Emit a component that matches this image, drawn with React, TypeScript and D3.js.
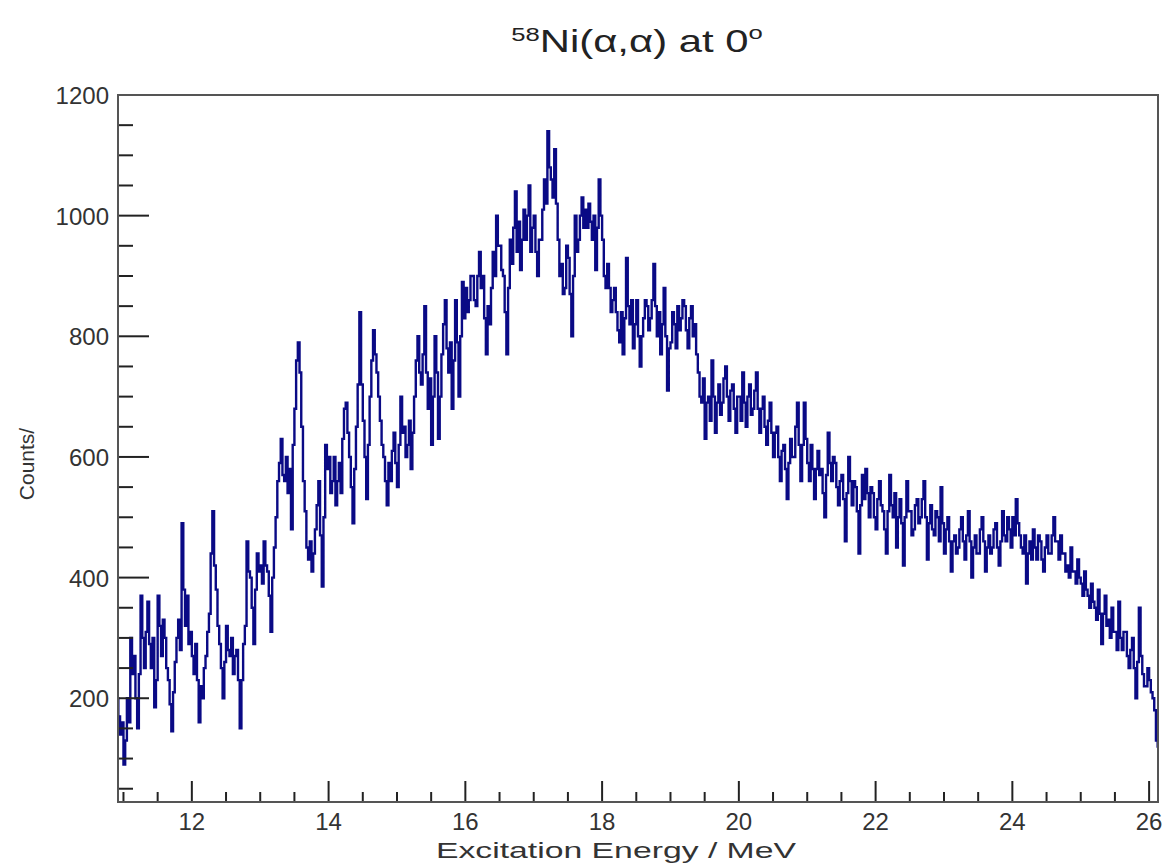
import React, { useEffect, useRef } from "react";
import * as d3 from "d3";

// histogram bins, 0.025 MeV wide, starting at 10.900 MeV
const energyStart = 10.9;
const binWidth = 0.025;

// 10.900 - 11.975
const counts11 = [200, 170, 140, 160, 90, 130, 200, 160, 300, 240, 270, 200, 150, 240, 370, 300, 250, 310, 360, 290, 250, 300,
  185, 230, 370, 320, 270, 330, 300, 250, 230, 190, 145, 210, 260, 300, 330, 280, 490, 380, 320, 370, 290, 310];
// 12.000 - 12.975
const counts12 = [270, 240, 290, 230, 160, 220, 200, 250, 270, 310, 340, 440, 510, 420, 380, 320, 290, 250, 200, 260,
  320, 280, 270, 300, 240, 270, 280, 230, 150, 230, 290, 320, 460, 410, 400, 350, 290, 380, 440, 410];
// 13.000 - 13.975
const counts13 = [420, 390, 460, 420, 410, 370, 310, 400, 450, 500, 560, 590, 630, 570, 560, 600, 540, 580, 480, 620,
  680, 760, 790, 740, 650, 560, 510, 450, 430, 460, 410, 440, 480, 520, 560, 470, 385, 500, 620, 580];
// 14.000 - 14.975
const counts14 = [600, 540, 560, 600, 520, 560, 590, 540, 630, 680, 690, 640, 600, 550, 490, 580, 650, 720, 840, 720,
  660, 600, 530, 620, 700, 760, 810, 770, 740, 700, 660, 620, 600, 560, 520, 590, 560, 610, 640, 590];
// 15.000 - 15.975
const counts15 = [550, 620, 700, 640, 650, 600, 620, 660, 580, 640, 700, 760, 800, 740, 720, 770, 850, 740, 680, 730,
  620, 700, 800, 740, 630, 700, 770, 820, 860, 780, 740, 790, 680, 760, 860, 790, 700, 800, 890, 830];
// 16.000 - 16.975
const counts16 = [880, 840, 860, 900, 900, 860, 850, 900, 940, 880, 900, 830, 770, 850, 820, 880, 940, 900, 1000, 950,
  950, 910, 900, 840, 770, 880, 960, 920, 980, 1040, 940, 990, 910, 960, 1010, 960, 1000, 1050, 940, 980];
// 17.000 - 17.975
const counts17 = [1000, 940, 900, 960, 960, 1010, 1060, 1020, 1140, 1080, 1060, 1030, 1110, 1020, 960, 900, 920, 870, 880, 950,
  930, 870, 800, 900, 1000, 940, 960, 1000, 1030, 980, 1010, 980, 1020, 990, 960, 1000, 910, 980, 1060, 1000];
// 18.000 - 18.975
const counts18 = [960, 900, 880, 920, 880, 840, 860, 880, 840, 810, 790, 840, 770, 830, 930, 850, 820, 860, 780, 820,
  860, 800, 750, 800, 830, 860, 850, 810, 830, 860, 920, 850, 800, 840, 770, 820, 880, 800, 710, 780];
// 19.000 - 19.975
const counts19 = [790, 840, 820, 780, 850, 810, 830, 860, 850, 810, 780, 830, 850, 800, 820, 770, 740, 700, 690, 730,
  630, 690, 700, 660, 760, 700, 640, 690, 720, 670, 690, 730, 750, 700, 660, 710, 720, 680, 640, 700];
// 20.000 - 20.975
const counts20 = [700, 660, 740, 690, 650, 700, 720, 670, 680, 710, 740, 680, 640, 680, 700, 650, 620, 660, 690, 640,
  600, 640, 650, 600, 560, 610, 620, 580, 530, 590, 630, 600, 600, 650, 690, 620, 560, 620, 690, 630];
// 21.000 - 21.975
const counts21 = [590, 560, 620, 580, 530, 580, 610, 570, 580, 540, 500, 570, 640, 590, 560, 600, 590, 550, 520, 560,
  570, 530, 460, 540, 600, 560, 520, 560, 550, 510, 440, 520, 570, 530, 580, 540, 500, 550, 540, 500];
// 22.000 - 22.975
const counts22 = [480, 530, 560, 520, 510, 480, 440, 510, 570, 520, 500, 540, 450, 500, 530, 490, 420, 500, 560, 510,
  510, 470, 480, 520, 530, 490, 500, 530, 560, 500, 430, 490, 520, 480, 470, 510, 500, 460, 550, 490];
// 23.000 - 23.975
const counts23 = [440, 480, 500, 460, 410, 460, 470, 440, 450, 480, 500, 460, 430, 470, 510, 460, 400, 450, 470, 440,
  440, 480, 500, 460, 410, 450, 470, 440, 450, 480, 490, 450, 420, 460, 510, 470, 460, 500, 480, 450];
// 24.000 - 24.975
const counts24 = [500, 470, 530, 490, 470, 450, 440, 470, 390, 440, 460, 430, 480, 450, 430, 470, 460, 430, 410, 450,
  470, 440, 440, 470, 500, 460, 460, 430, 470, 440, 440, 410, 420, 400, 450, 410, 410, 390, 430, 400];
// 25.000 - 26.125
const counts25 = [390, 370, 410, 380, 370, 350, 390, 360, 350, 330, 380, 340, 290, 340, 370, 320, 330, 300, 350, 310,
  310, 280, 360, 300, 280, 310, 310, 270, 250, 280, 300, 250, 200, 260, 350, 270, 240, 220, 220, 250,
  230, 210, 200, 180, 130, 120];

const xMajorTicks = [12, 14, 16, 18, 20, 22, 24, 26];
const yMajorTicks = [200, 400, 600, 800, 1000, 1200];

const W = 1164, H = 865;
const frame = { left: 118, right: 1158, top: 95, bottom: 802 };
const font = "'Liberation Sans', Arial, Helvetica, sans-serif";

export default function App() {
  const ref = useRef<SVGSVGElement>(null);

  useEffect(() => {
    const svg = d3.select(ref.current);
    svg.selectAll("*").remove();

    const all = [
      ...counts11, ...counts12, ...counts13, ...counts14, ...counts15,
      ...counts16, ...counts17, ...counts18, ...counts19, ...counts20,
      ...counts21, ...counts22, ...counts23, ...counts24, ...counts25,
    ];
    const bins = all.map((c, i) => ({ e: energyStart + i * binWidth, c }));

    const x = d3.scaleLinear().domain([10.92, 26.13]).range([frame.left, frame.right]);
    const y = d3.scaleLinear().domain([28, 1200]).range([frame.bottom, frame.top]);

    svg.append("defs").append("clipPath").attr("id", "frameClip")
      .append("rect")
      .attr("x", frame.left).attr("y", frame.top)
      .attr("width", frame.right - frame.left)
      .attr("height", frame.bottom - frame.top);

    // histogram
    const pts: [number, number][] = bins.map(d => [x(d.e), y(d.c)]);
    const last = bins[bins.length - 1];
    pts.push([x(last.e + binWidth), y(last.c)]);
    const line = d3.line().curve(d3.curveStepAfter);
    svg.append("path")
      .attr("d", line(pts))
      .attr("clip-path", "url(#frameClip)")
      .attr("fill", "none")
      .attr("stroke", "#0a0a85")
      .attr("stroke-width", 2.4);

    const tickColor = "#222";

    // x ticks
    const xMinor = d3.range(11, 26.2, 0.5).filter(v => !xMajorTicks.includes(v));
    svg.selectAll(".xminor").data(xMinor).join("line")
      .attr("x1", d => x(d)).attr("x2", d => x(d))
      .attr("y1", frame.bottom).attr("y2", frame.bottom - 10)
      .attr("stroke", tickColor).attr("stroke-width", 2);
    svg.selectAll(".xmajor").data(xMajorTicks).join("line")
      .attr("x1", d => x(d)).attr("x2", d => x(d))
      .attr("y1", frame.bottom).attr("y2", frame.bottom - 21)
      .attr("stroke", tickColor).attr("stroke-width", 2);
    svg.selectAll(".xlab").data(xMajorTicks).join("text")
      .attr("x", d => x(d)).attr("y", 830)
      .attr("text-anchor", "middle")
      .style("font-family", font).style("font-size", "24px").attr("fill", "#333")
      .text(d => d);

    // y ticks
    const yMinor = d3.range(50, 1200, 50).filter(v => v % 200 !== 0);
    svg.selectAll(".yminor").data(yMinor).join("line")
      .attr("x1", frame.left).attr("x2", frame.left + 15)
      .attr("y1", d => y(d)).attr("y2", d => y(d))
      .attr("stroke", tickColor).attr("stroke-width", 2);
    svg.selectAll(".ymajor").data(yMajorTicks).join("line")
      .attr("x1", frame.left).attr("x2", frame.left + 31)
      .attr("y1", d => y(d)).attr("y2", d => y(d))
      .attr("stroke", tickColor).attr("stroke-width", 2);
    svg.selectAll(".ylab").data(yMajorTicks).join("text")
      .attr("x", frame.left - 9).attr("y", d => y(d) + 9)
      .attr("text-anchor", "end")
      .style("font-family", font).style("font-size", "24px").attr("fill", "#333")
      .text(d => d);

    // frame
    svg.append("rect")
      .attr("x", frame.left).attr("y", frame.top)
      .attr("width", frame.right - frame.left)
      .attr("height", frame.bottom - frame.top)
      .attr("fill", "none").attr("stroke", "#555").attr("stroke-width", 2);

    // axis titles
    svg.append("text")
      .attr("x", 616).attr("y", 858)
      .attr("text-anchor", "middle")
      .attr("textLength", 360).attr("lengthAdjust", "spacingAndGlyphs")
      .style("font-family", font).style("font-size", "22px").attr("fill", "#333")
      .text("Excitation Energy / MeV");
    svg.append("text")
      .attr("transform", "translate(34, 464) rotate(-90)")
      .attr("text-anchor", "middle")
      .style("font-family", font).style("font-size", "21px").attr("fill", "#333")
      .text("Counts/");

    // title
    const title = svg.append("text")
      .attr("transform", "translate(637, 52) scale(1.35, 1)")
      .attr("text-anchor", "middle")
      .style("font-family", font).style("font-size", "31px").attr("fill", "#222");
    title.append("tspan").attr("dy", -11).style("font-size", "19px").text("58");
    title.append("tspan").attr("dy", 11).text("Ni(α,α) at 0");
    title.append("tspan").attr("dy", -13).style("font-size", "19px").text("o");
  }, []);

  return (
    <svg ref={ref} width={W} height={H}
      style={{ position: "absolute", left: 0, top: 0, display: "block", background: "#fff" }} />
  );
}
